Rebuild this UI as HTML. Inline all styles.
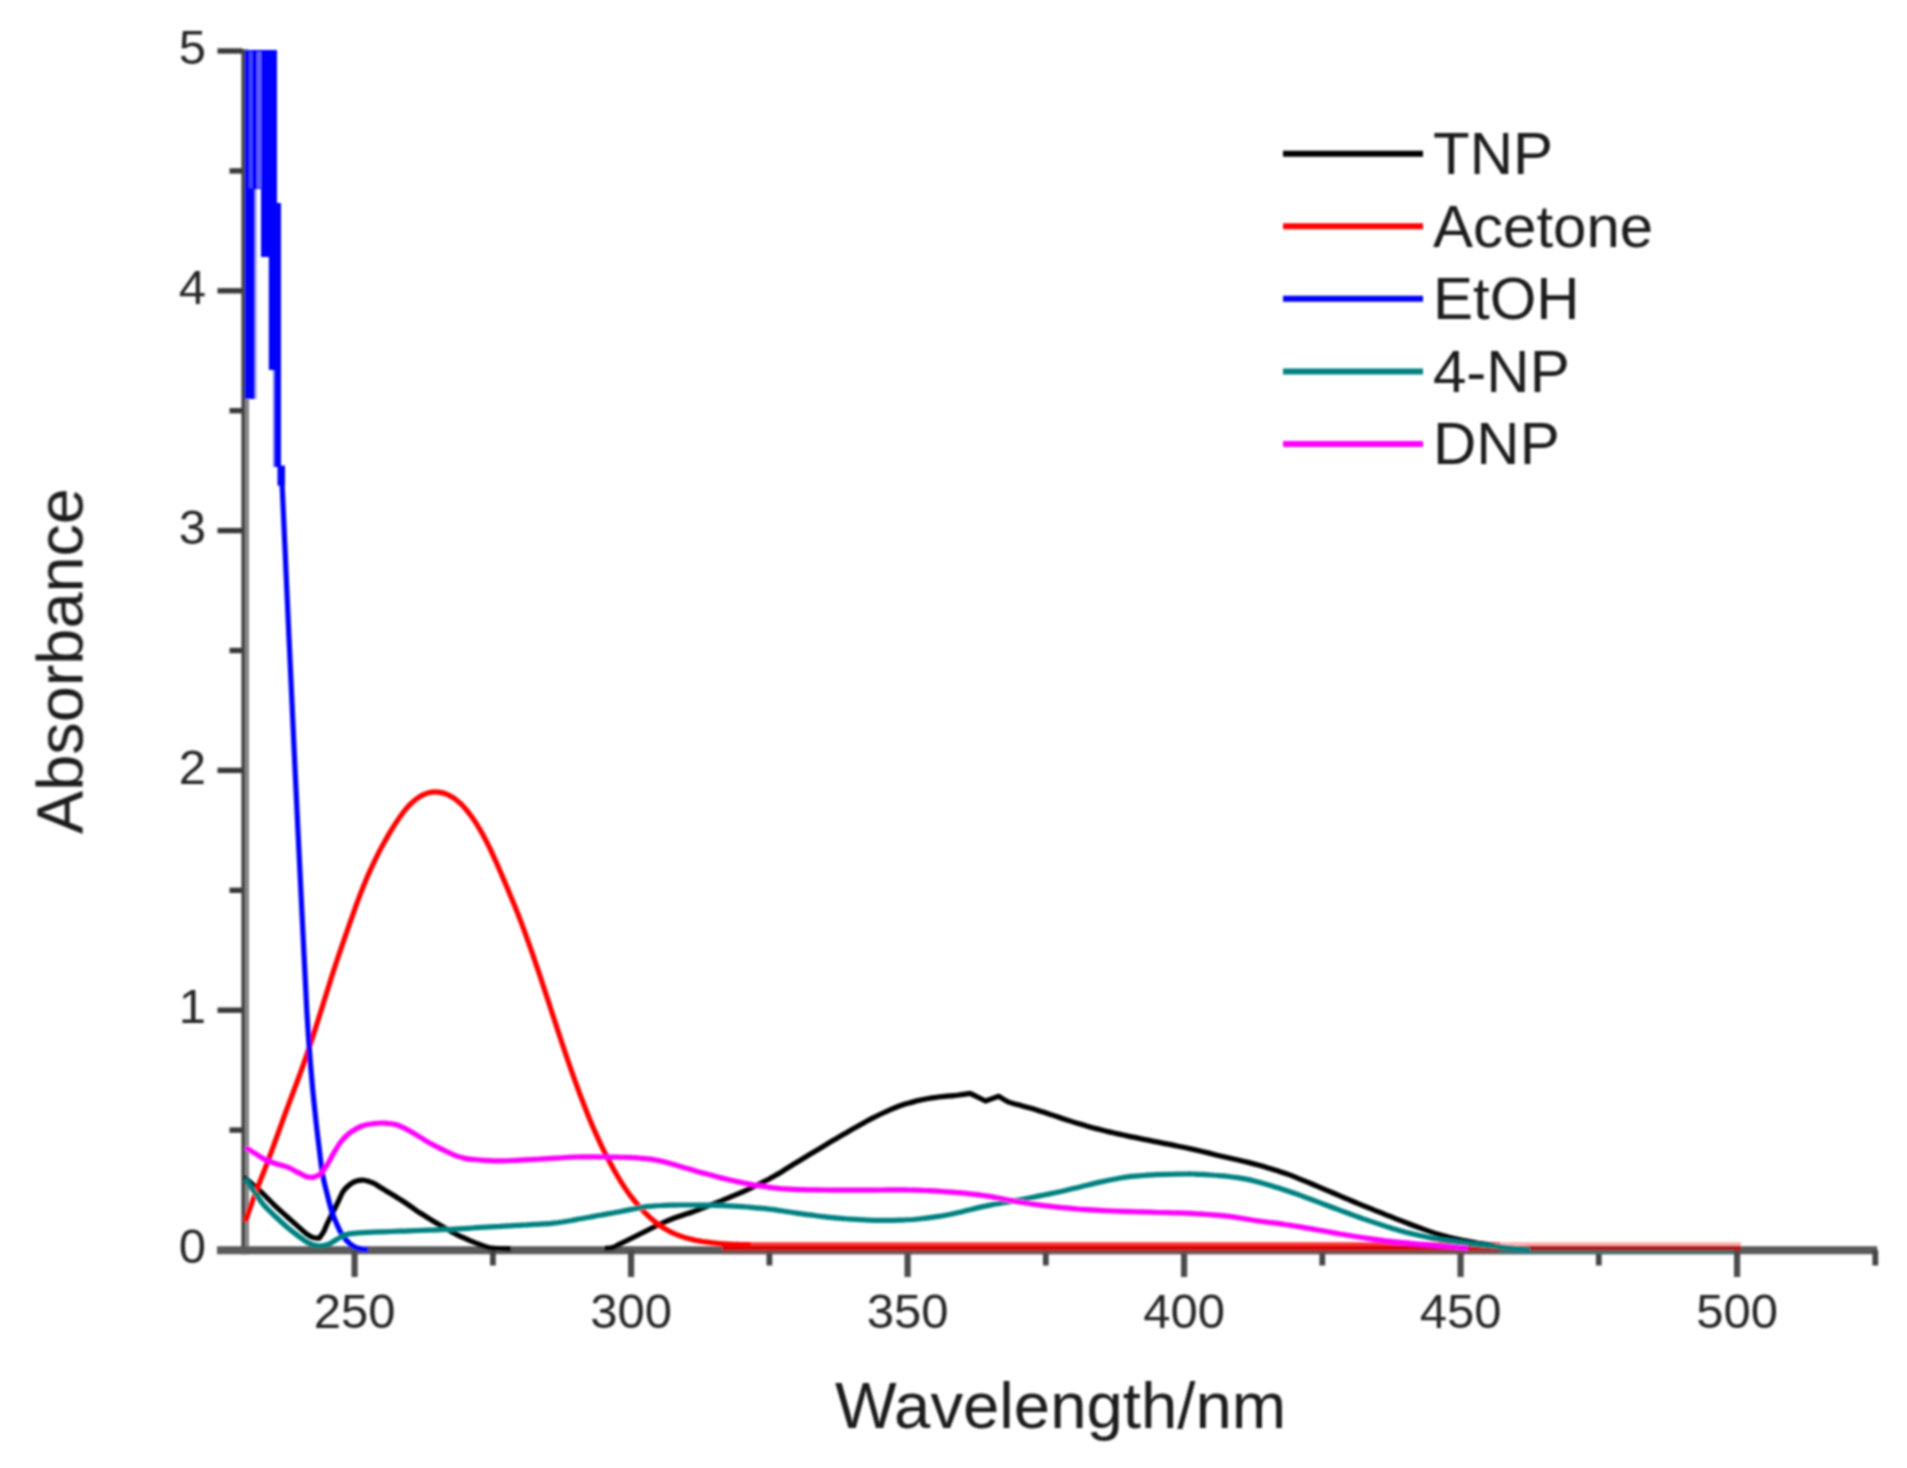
<!DOCTYPE html><html><head><meta charset="utf-8"><title>UV-vis absorbance</title>
<style>html,body{margin:0;padding:0;background:#fff}svg{display:block;font-family:"Liberation Sans",sans-serif}</style></head><body>
<svg width="1907" height="1468" viewBox="0 0 1907 1468">
<defs><filter id="b" x="-2%" y="-2%" width="104%" height="104%"><feGaussianBlur stdDeviation="1.1"/></filter></defs>
<rect width="1907" height="1468" fill="#fff"/>
<g filter="url(#b)">
<g fill="none" stroke-width="3.9">
<path d="M243.3,49 V1254.3" stroke="#454545"/>
<path d="M247.1,49 V1254.3" stroke="#858585"/>
</g>
<path d="M217,1250.3 H1877.2" stroke="#5a5a5a" stroke-width="8" fill="none"/>
<g stroke="#383838" stroke-width="5.4" fill="none">
<path d="M217.5,1010.2 H242"/>
<path d="M217.5,770.4 H242"/>
<path d="M217.5,530.6 H242"/>
<path d="M217.5,290.8 H242"/>
<path d="M217.5,51.0 H242"/>
<path d="M229.5,1130.1 H242"/>
<path d="M229.5,890.3 H242"/>
<path d="M229.5,650.5 H242"/>
<path d="M229.5,410.7 H242"/>
<path d="M229.5,170.9 H242"/>
</g>
<g stroke="#4c4c4c" stroke-width="6.2" fill="none">
<path d="M354.6,1250 V1277"/>
<path d="M631.1,1250 V1277"/>
<path d="M907.6,1250 V1277"/>
<path d="M1184.1,1250 V1277"/>
<path d="M1460.6,1250 V1277"/>
<path d="M1737.1,1250 V1277"/>
</g>
<g stroke="#454545" stroke-width="5.8" fill="none">
<path d="M492.9,1250 V1265.5"/>
<path d="M769.4,1250 V1265.5"/>
<path d="M1045.8,1250 V1265.5"/>
<path d="M1322.3,1250 V1265.5"/>
<path d="M1598.8,1250 V1265.5"/>
<path d="M1875.3,1250 V1265.5"/>
</g>
<g fill="none" stroke-width="5.2" stroke-linejoin="round" stroke-linecap="butt">
<path stroke="#f00" stroke-width="4.2" opacity="0.8" d="M748,1244.3 H1500"/>
<path stroke="#d80000" stroke-width="4.3" d="M722,1248.4 H1500"/>
<path stroke="#f00" stroke-width="4.2" opacity="0.32" d="M1500,1244.4 H1741"/>
<path stroke="#a81c1c" stroke-width="4.4" d="M1500,1248.5 H1741"/>
<path stroke="#477070" stroke-width="3.8" d="M1500,1252.4 H1733"/>
<path stroke="#7a5050" stroke-width="3.8" opacity="0.7" d="M722,1252.4 H1500"/>
<path stroke="#000" d="M244.2,1177.3 C247.1,1179.8 256.3,1187.5 261.5,1192.3 C266.7,1197.1 271.2,1202.1 275.4,1206.1 C279.6,1210.1 283.0,1213.0 286.9,1216.5 C290.8,1220.0 295.2,1224.0 298.5,1226.9 C301.8,1229.8 304.0,1232.0 306.5,1233.8 C309.0,1235.6 311.3,1236.9 313.4,1237.6 C315.5,1238.3 318.2,1238.1 319.2,1238.2 C320.0,1237.1 322.4,1234.0 323.8,1231.5 C325.2,1229.0 325.8,1226.7 327.3,1223.4 C328.9,1220.1 331.2,1215.7 333.1,1211.9 C335.0,1208.1 337.1,1203.9 338.8,1200.4 C340.5,1196.9 341.5,1193.8 343.4,1191.1 C345.3,1188.4 348.1,1185.9 350.4,1184.2 C352.7,1182.5 355.0,1181.5 357.3,1180.8 C359.6,1180.1 361.5,1179.8 364.2,1180.2 C366.9,1180.6 370.9,1182.0 373.4,1183.1 C375.9,1184.2 377.4,1185.5 379.4,1186.7 C381.4,1187.9 383.4,1189.1 385.4,1190.4 C387.4,1191.6 389.4,1192.9 391.4,1194.1 C393.4,1195.3 395.4,1196.5 397.4,1197.8 C399.4,1199.0 401.4,1200.2 403.4,1201.5 C405.4,1202.8 407.4,1204.2 409.4,1205.5 C411.4,1206.9 413.4,1208.4 415.4,1209.8 C417.4,1211.2 419.4,1212.5 421.4,1213.8 C423.4,1215.1 425.4,1216.3 427.4,1217.5 C429.4,1218.8 431.4,1220.0 433.4,1221.2 C435.4,1222.4 437.4,1223.6 439.4,1224.8 C441.4,1225.9 443.4,1227.1 445.4,1228.3 C447.4,1229.4 449.4,1230.6 451.4,1231.7 C453.4,1232.7 455.4,1233.8 457.4,1234.8 C459.4,1235.8 461.4,1236.8 463.4,1237.7 C465.4,1238.6 467.4,1239.5 469.4,1240.4 C471.4,1241.2 473.4,1242.0 475.4,1242.8 C477.4,1243.6 479.4,1244.3 481.4,1245.1 C483.4,1245.8 486.2,1246.8 487.4,1247.2 C488.6,1247.6 486.7,1247.4 488.5,1247.6 C490.3,1247.8 494.2,1248.3 498.0,1248.5 C501.8,1248.7 508.8,1248.8 511.0,1248.8"/>
<path stroke="#000" d="M604.6,1248.6 C606.0,1248.4 610.5,1248.1 613.0,1247.4 C615.5,1246.7 616.8,1245.6 619.6,1244.2 C622.4,1242.8 626.8,1240.6 630.0,1239.0 C633.2,1237.4 636.0,1236.0 639.0,1234.5 C642.0,1233.0 645.0,1231.5 648.0,1230.0 C651.0,1228.5 654.0,1227.0 657.0,1225.5 C660.0,1224.1 663.0,1222.7 666.0,1221.4 C669.0,1220.1 672.0,1218.9 675.0,1217.8 C678.0,1216.7 681.0,1215.7 684.0,1214.7 C687.0,1213.7 690.0,1212.8 693.0,1211.7 C696.0,1210.7 699.0,1209.5 702.0,1208.4 C705.0,1207.3 708.0,1206.1 711.0,1204.9 C714.0,1203.7 717.0,1202.5 720.0,1201.3 C723.0,1200.1 726.0,1198.9 729.0,1197.6 C732.0,1196.4 735.0,1195.2 738.0,1193.9 C741.0,1192.6 744.0,1191.3 747.0,1189.9 C750.0,1188.5 753.0,1187.1 756.0,1185.6 C759.0,1184.2 762.0,1182.7 765.0,1181.1 C768.0,1179.6 771.0,1177.9 774.0,1176.2 C777.0,1174.5 780.0,1172.7 783.0,1170.9 C786.0,1169.1 789.0,1167.2 792.0,1165.3 C795.0,1163.5 798.0,1161.6 801.0,1159.8 C804.0,1157.9 807.0,1156.1 810.0,1154.3 C813.0,1152.5 816.0,1150.7 819.0,1148.9 C822.0,1147.1 825.0,1145.3 828.0,1143.5 C831.0,1141.7 834.0,1140.0 837.0,1138.2 C840.0,1136.5 843.0,1134.7 846.0,1133.0 C849.0,1131.2 852.0,1129.5 855.0,1127.8 C858.0,1126.1 861.0,1124.4 864.0,1122.7 C867.0,1121.1 870.0,1119.4 873.0,1117.9 C876.0,1116.4 879.0,1114.9 882.0,1113.5 C885.0,1112.1 888.0,1110.7 891.0,1109.4 C894.0,1108.1 897.0,1106.9 900.0,1105.8 C903.0,1104.8 906.0,1103.8 909.0,1103.0 C912.0,1102.1 915.0,1101.4 918.0,1100.6 C921.0,1099.9 924.0,1099.3 927.0,1098.7 C930.0,1098.2 933.0,1097.7 936.0,1097.4 C939.0,1097.0 942.0,1096.7 945.0,1096.4 C948.0,1096.1 952.0,1095.8 954.0,1095.6 C956.0,1095.4 954.5,1095.7 957.2,1095.3 C959.9,1094.9 968.2,1093.7 970.4,1093.4 C971.3,1093.9 973.5,1095.0 976.0,1096.3 C978.5,1097.6 983.9,1100.2 985.5,1101.0 C987.7,1100.2 996.5,1097.1 998.7,1096.3 C1000.3,1097.2 1005.0,1100.5 1008.2,1101.9 C1011.5,1103.3 1014.9,1103.8 1018.2,1104.7 C1021.5,1105.7 1024.9,1106.6 1028.2,1107.6 C1031.5,1108.5 1034.9,1109.5 1038.2,1110.5 C1041.5,1111.6 1044.9,1112.6 1048.2,1113.7 C1051.5,1114.8 1054.9,1115.9 1058.2,1117.0 C1061.5,1118.2 1064.9,1119.3 1068.2,1120.4 C1071.5,1121.5 1074.9,1122.6 1078.2,1123.6 C1081.5,1124.6 1084.9,1125.6 1088.2,1126.5 C1091.5,1127.4 1094.9,1128.3 1098.2,1129.1 C1101.5,1130.0 1104.9,1130.8 1108.2,1131.6 C1111.5,1132.4 1114.9,1133.1 1118.2,1133.9 C1121.5,1134.6 1124.9,1135.4 1128.2,1136.1 C1131.5,1136.8 1134.9,1137.4 1138.2,1138.1 C1141.5,1138.8 1144.9,1139.5 1148.2,1140.1 C1151.5,1140.8 1154.9,1141.5 1158.2,1142.1 C1161.5,1142.8 1164.9,1143.5 1168.2,1144.1 C1171.5,1144.8 1174.9,1145.5 1178.2,1146.2 C1181.5,1146.8 1184.9,1147.5 1188.2,1148.3 C1191.5,1149.0 1194.9,1149.7 1198.2,1150.5 C1201.5,1151.3 1204.9,1152.1 1208.2,1152.9 C1211.5,1153.7 1214.9,1154.6 1218.2,1155.4 C1221.5,1156.2 1224.9,1157.0 1228.2,1157.7 C1231.5,1158.5 1234.9,1159.3 1238.2,1160.0 C1241.5,1160.8 1244.9,1161.6 1248.2,1162.4 C1251.5,1163.2 1254.9,1164.1 1258.2,1165.0 C1261.5,1165.9 1264.9,1166.9 1268.2,1167.9 C1271.5,1168.9 1274.9,1169.9 1278.2,1171.0 C1281.5,1172.1 1284.9,1173.2 1288.2,1174.4 C1291.5,1175.6 1294.9,1176.9 1298.2,1178.3 C1301.5,1179.6 1304.9,1181.0 1308.2,1182.4 C1311.5,1183.8 1314.9,1185.2 1318.2,1186.6 C1321.5,1188.0 1324.9,1189.4 1328.2,1190.9 C1331.5,1192.3 1334.9,1193.7 1338.2,1195.1 C1341.5,1196.5 1344.9,1197.9 1348.2,1199.4 C1351.5,1200.8 1354.9,1202.2 1358.2,1203.6 C1361.5,1204.9 1364.9,1206.3 1368.2,1207.7 C1371.5,1209.1 1374.9,1210.4 1378.2,1211.7 C1381.5,1213.1 1384.9,1214.4 1388.2,1215.7 C1391.5,1217.1 1394.9,1218.4 1398.2,1219.7 C1401.5,1221.0 1404.9,1222.3 1408.2,1223.5 C1411.5,1224.8 1414.9,1226.1 1418.2,1227.3 C1421.5,1228.5 1424.9,1229.7 1428.2,1230.9 C1431.5,1232.0 1434.9,1233.2 1438.2,1234.2 C1441.5,1235.2 1444.9,1236.1 1448.2,1237.0 C1451.5,1237.8 1454.9,1238.6 1458.2,1239.4 C1461.5,1240.1 1464.9,1240.8 1468.2,1241.4 C1471.5,1242.0 1474.9,1242.6 1478.2,1243.2 C1481.5,1243.7 1485.3,1244.3 1488.2,1244.7 C1491.1,1245.2 1494.2,1245.6 1495.4,1245.8"/>
<path stroke="#f00" d="M245.4,1221.6 C246.2,1219.2 248.7,1211.7 250.4,1207.0 C252.1,1202.3 253.7,1197.8 255.4,1193.4 C257.1,1188.9 258.7,1184.7 260.4,1180.4 C262.1,1176.1 263.7,1171.9 265.4,1167.6 C267.1,1163.2 268.7,1158.9 270.4,1154.4 C272.1,1149.9 273.7,1145.3 275.4,1140.7 C277.1,1136.1 278.7,1131.4 280.4,1126.8 C282.1,1122.2 283.7,1117.6 285.4,1113.0 C287.1,1108.5 288.7,1104.1 290.4,1099.6 C292.1,1095.2 293.7,1090.9 295.4,1086.4 C297.1,1082.0 298.7,1077.5 300.4,1072.9 C302.1,1068.3 303.7,1063.7 305.4,1058.9 C307.1,1054.0 308.7,1049.1 310.4,1044.0 C312.1,1039.0 313.7,1033.8 315.4,1028.6 C317.1,1023.4 318.7,1018.1 320.4,1012.8 C322.1,1007.5 323.7,1002.1 325.4,996.7 C327.1,991.4 328.7,986.0 330.4,980.7 C332.1,975.4 333.7,970.2 335.4,965.1 C337.1,960.1 338.7,955.1 340.4,950.3 C342.1,945.4 343.7,940.7 345.4,935.9 C347.1,931.1 348.7,926.3 350.4,921.6 C352.1,916.9 353.7,912.1 355.4,907.4 C357.1,902.8 358.7,898.2 360.4,893.9 C362.1,889.5 363.7,885.4 365.4,881.4 C367.1,877.4 368.7,873.6 370.4,869.9 C372.1,866.2 373.7,862.7 375.4,859.3 C377.1,855.8 378.7,852.6 380.4,849.4 C382.1,846.2 383.7,843.2 385.4,840.2 C387.1,837.2 388.7,834.4 390.4,831.6 C392.1,828.8 393.7,826.1 395.4,823.6 C397.1,821.0 398.7,818.5 400.4,816.2 C402.1,813.8 403.7,811.6 405.4,809.6 C407.1,807.6 408.7,805.8 410.4,804.1 C412.1,802.4 413.7,801.0 415.4,799.7 C417.1,798.4 418.7,797.3 420.4,796.3 C422.1,795.3 423.7,794.5 425.4,793.9 C427.1,793.2 428.7,792.7 430.4,792.4 C432.1,792.0 433.7,791.8 435.4,791.8 C437.1,791.8 438.7,792.0 440.4,792.4 C442.1,792.7 443.7,793.2 445.4,793.8 C447.1,794.4 448.7,795.2 450.4,796.1 C452.1,797.0 453.7,798.0 455.4,799.2 C457.1,800.5 458.7,801.8 460.4,803.4 C462.1,805.0 463.7,806.7 465.4,808.7 C467.1,810.6 468.7,812.7 470.4,815.0 C472.1,817.2 473.7,819.6 475.4,822.2 C477.1,824.8 478.7,827.5 480.4,830.4 C482.1,833.2 483.7,836.3 485.4,839.5 C487.1,842.6 488.7,846.0 490.4,849.5 C492.1,853.0 493.7,856.7 495.4,860.4 C497.1,864.1 498.7,867.9 500.4,871.8 C502.1,875.6 503.7,879.6 505.4,883.5 C507.1,887.4 508.7,891.4 510.4,895.4 C512.1,899.4 513.7,903.5 515.4,907.6 C517.1,911.8 518.7,916.0 520.4,920.4 C522.1,924.7 523.7,929.2 525.4,933.8 C527.1,938.4 528.7,943.1 530.4,947.8 C532.1,952.6 533.7,957.4 535.4,962.3 C537.1,967.2 538.7,972.2 540.4,977.2 C542.1,982.2 543.7,987.3 545.4,992.4 C547.1,997.5 548.7,1002.6 550.4,1007.7 C552.1,1012.8 553.7,1017.9 555.4,1023.0 C557.1,1028.1 558.7,1033.2 560.4,1038.3 C562.1,1043.3 563.7,1048.3 565.4,1053.3 C567.1,1058.2 568.7,1063.1 570.4,1067.8 C572.1,1072.6 573.7,1077.3 575.4,1081.9 C577.1,1086.5 578.7,1091.0 580.4,1095.5 C582.1,1099.9 583.7,1104.3 585.4,1108.5 C587.1,1112.8 588.7,1116.9 590.4,1120.9 C592.1,1125.0 593.7,1128.9 595.4,1132.6 C597.1,1136.4 598.7,1140.0 600.4,1143.6 C602.1,1147.1 603.7,1150.5 605.4,1153.8 C607.1,1157.1 608.7,1160.2 610.4,1163.3 C612.1,1166.4 613.7,1169.4 615.4,1172.4 C617.1,1175.3 618.7,1178.1 620.4,1180.8 C622.1,1183.5 623.7,1186.1 625.4,1188.6 C627.1,1191.1 628.7,1193.4 630.4,1195.7 C632.1,1197.9 633.7,1200.0 635.4,1202.0 C637.1,1204.1 638.7,1206.0 640.4,1207.8 C642.1,1209.7 643.7,1211.4 645.4,1213.1 C647.1,1214.8 648.7,1216.4 650.4,1217.9 C652.1,1219.4 653.7,1220.8 655.4,1222.1 C657.1,1223.4 658.7,1224.7 660.4,1225.8 C662.1,1227.0 663.7,1228.1 665.4,1229.1 C667.1,1230.1 668.7,1231.0 670.4,1231.8 C672.1,1232.6 673.7,1233.4 675.4,1234.1 C677.1,1234.8 678.7,1235.5 680.4,1236.0 C682.1,1236.6 683.7,1237.2 685.4,1237.7 C687.1,1238.2 688.7,1238.6 690.4,1239.0 C692.1,1239.5 693.7,1239.8 695.4,1240.2 C697.1,1240.5 698.7,1240.8 700.4,1241.1 C702.1,1241.4 703.7,1241.7 705.4,1241.9 C707.1,1242.2 708.7,1242.4 710.4,1242.6 C712.1,1242.8 713.7,1243.0 715.4,1243.2 C717.1,1243.4 718.7,1243.5 720.4,1243.6 C722.1,1243.8 723.7,1243.9 725.4,1243.9 C727.1,1244.0 728.7,1244.1 730.4,1244.2 C732.1,1244.3 733.7,1244.3 735.4,1244.4 C737.1,1244.4 738.7,1244.5 740.4,1244.5 C742.1,1244.5 743.7,1244.6 745.4,1244.6 C747.1,1244.6 749.6,1244.6 750.4,1244.6"/>
<path stroke="#00f" d="M281.3,466.0 C282.0,481.7 284.2,531.0 285.5,560.0 C286.8,589.0 287.6,606.7 289.1,640.0 C290.6,673.3 292.4,713.3 294.6,760.0 C296.8,806.7 300.6,885.6 302.3,920.0 C304.0,954.4 303.8,950.7 304.6,966.1 C305.4,981.5 306.1,998.8 306.9,1012.3 C307.7,1025.8 308.3,1034.8 309.2,1046.9 C310.1,1059.0 311.2,1072.9 312.3,1085.0 C313.4,1097.1 314.7,1109.0 315.8,1119.6 C316.9,1130.2 318.1,1139.3 319.2,1148.5 C320.3,1157.7 321.3,1167.3 322.7,1175.0 C324.1,1182.7 325.8,1188.4 327.3,1194.6 C328.8,1200.8 330.4,1207.1 331.9,1211.9 C333.4,1216.7 334.8,1219.6 336.5,1223.4 C338.2,1227.2 340.0,1231.5 342.3,1235.0 C344.6,1238.5 347.5,1241.9 350.4,1244.2 C353.3,1246.5 356.7,1247.9 359.6,1248.8 C362.5,1249.7 366.6,1249.6 368.0,1249.8"/>
<path stroke="#008080" d="M245.0,1178.5 C246.6,1180.8 251.5,1187.9 254.6,1192.3 C257.7,1196.7 260.3,1201.0 263.8,1205.0 C267.3,1209.0 271.5,1212.8 275.4,1216.5 C279.2,1220.2 283.0,1223.6 286.9,1226.9 C290.8,1230.2 294.9,1233.4 298.5,1236.1 C302.1,1238.8 305.5,1241.5 308.8,1243.1 C312.1,1244.7 315.0,1245.6 318.1,1245.9 C321.2,1246.2 324.2,1245.8 327.3,1244.8 C330.4,1243.8 333.6,1241.2 336.5,1239.6 C339.4,1238.0 341.3,1236.1 344.6,1235.0 C347.9,1233.9 351.3,1233.7 356.1,1233.2 C360.9,1232.7 369.0,1232.3 373.4,1232.1 C377.8,1231.9 379.4,1231.9 382.4,1231.8 C385.4,1231.7 388.4,1231.6 391.4,1231.5 C394.4,1231.4 397.4,1231.3 400.4,1231.2 C403.4,1231.1 406.4,1231.0 409.4,1230.8 C412.4,1230.7 415.4,1230.6 418.4,1230.5 C421.4,1230.4 424.4,1230.3 427.4,1230.2 C430.4,1230.1 433.4,1230.0 436.4,1229.9 C439.4,1229.8 442.4,1229.7 445.4,1229.5 C448.4,1229.4 451.4,1229.3 454.4,1229.1 C457.4,1229.0 460.4,1228.8 463.4,1228.6 C466.4,1228.4 469.4,1228.2 472.4,1228.0 C475.4,1227.8 478.4,1227.6 481.4,1227.4 C484.4,1227.2 487.4,1227.0 490.4,1226.8 C493.4,1226.6 496.4,1226.4 499.4,1226.3 C502.4,1226.1 505.4,1226.0 508.4,1225.8 C511.4,1225.6 514.4,1225.5 517.4,1225.3 C520.4,1225.2 523.4,1225.0 526.4,1224.9 C529.4,1224.7 532.4,1224.6 535.4,1224.4 C538.4,1224.2 541.4,1224.1 544.4,1223.9 C547.4,1223.7 550.4,1223.5 553.4,1223.1 C556.4,1222.8 559.4,1222.4 562.4,1222.0 C565.4,1221.5 568.4,1221.0 571.4,1220.5 C574.4,1219.9 577.4,1219.4 580.4,1218.8 C583.4,1218.3 586.4,1217.7 589.4,1217.2 C592.4,1216.6 595.4,1216.1 598.4,1215.5 C601.4,1215.0 604.4,1214.5 607.4,1213.9 C610.4,1213.4 613.4,1212.9 616.4,1212.3 C619.4,1211.7 622.4,1211.2 625.4,1210.6 C628.4,1210.0 631.4,1209.3 634.4,1208.7 C637.4,1208.2 640.4,1207.6 643.4,1207.1 C646.4,1206.7 649.4,1206.3 652.4,1206.1 C655.4,1205.8 658.4,1205.6 661.4,1205.5 C664.4,1205.3 667.4,1205.2 670.4,1205.1 C673.4,1205.1 676.4,1205.0 679.4,1205.0 C682.4,1205.0 685.4,1205.0 688.4,1205.0 C691.4,1205.0 694.4,1205.0 697.4,1205.0 C700.4,1205.0 703.4,1205.1 706.4,1205.1 C709.4,1205.2 712.4,1205.2 715.4,1205.3 C718.4,1205.4 721.4,1205.5 724.4,1205.6 C727.4,1205.7 730.4,1205.9 733.4,1206.1 C736.4,1206.3 739.4,1206.5 742.4,1206.7 C745.4,1206.9 748.4,1207.1 751.4,1207.4 C754.4,1207.7 757.4,1207.9 760.4,1208.2 C763.4,1208.5 766.4,1208.8 769.4,1209.2 C772.4,1209.5 775.4,1209.9 778.4,1210.4 C781.4,1210.8 784.4,1211.3 787.4,1211.7 C790.4,1212.2 793.4,1212.7 796.4,1213.1 C799.4,1213.6 802.4,1214.0 805.4,1214.4 C808.4,1214.8 811.4,1215.1 814.4,1215.5 C817.4,1215.9 820.4,1216.3 823.4,1216.6 C826.4,1217.0 829.4,1217.3 832.4,1217.6 C835.4,1217.9 838.4,1218.2 841.4,1218.4 C844.4,1218.6 847.4,1218.9 850.4,1219.1 C853.4,1219.3 856.4,1219.5 859.4,1219.6 C862.4,1219.8 865.4,1220.0 868.4,1220.1 C871.4,1220.2 874.4,1220.3 877.4,1220.3 C880.4,1220.4 883.4,1220.4 886.4,1220.4 C889.4,1220.4 892.4,1220.3 895.4,1220.3 C898.4,1220.2 901.4,1220.2 904.4,1220.0 C907.4,1219.9 910.4,1219.7 913.4,1219.5 C916.4,1219.2 919.4,1218.9 922.4,1218.5 C925.4,1218.2 928.4,1217.8 931.4,1217.4 C934.4,1216.9 937.4,1216.5 940.4,1216.1 C943.4,1215.6 946.4,1215.1 949.4,1214.5 C952.4,1213.9 955.4,1213.2 958.4,1212.5 C961.4,1211.8 964.4,1211.0 967.4,1210.3 C970.4,1209.6 973.4,1208.8 976.4,1208.1 C979.4,1207.4 982.4,1206.7 985.4,1206.1 C988.4,1205.4 991.4,1204.9 994.4,1204.3 C997.4,1203.7 1000.4,1203.2 1003.4,1202.7 C1006.4,1202.1 1009.4,1201.6 1012.4,1201.1 C1015.4,1200.6 1018.4,1200.0 1021.4,1199.5 C1024.4,1198.9 1027.4,1198.3 1030.4,1197.7 C1033.4,1197.2 1036.4,1196.6 1039.4,1195.9 C1042.4,1195.3 1045.4,1194.7 1048.4,1194.1 C1051.4,1193.5 1054.4,1192.9 1057.4,1192.2 C1060.4,1191.6 1063.4,1190.9 1066.4,1190.2 C1069.4,1189.5 1072.4,1188.7 1075.4,1188.0 C1078.4,1187.3 1081.4,1186.5 1084.4,1185.8 C1087.4,1185.1 1090.4,1184.3 1093.4,1183.6 C1096.4,1182.9 1099.4,1182.2 1102.4,1181.6 C1105.4,1180.9 1108.4,1180.3 1111.4,1179.7 C1114.4,1179.1 1117.4,1178.5 1120.4,1178.0 C1123.4,1177.5 1126.4,1177.1 1129.4,1176.7 C1132.4,1176.3 1135.4,1176.1 1138.4,1175.8 C1141.4,1175.6 1144.4,1175.4 1147.4,1175.2 C1150.4,1175.0 1153.4,1174.8 1156.4,1174.7 C1159.4,1174.6 1162.4,1174.5 1165.4,1174.4 C1168.4,1174.3 1171.4,1174.2 1174.4,1174.2 C1177.4,1174.1 1180.4,1174.0 1183.4,1174.0 C1186.4,1174.0 1189.4,1173.9 1192.4,1174.0 C1195.4,1174.1 1198.4,1174.2 1201.4,1174.4 C1204.4,1174.6 1207.4,1174.8 1210.4,1175.0 C1213.4,1175.2 1216.4,1175.4 1219.4,1175.7 C1222.4,1175.9 1225.4,1176.2 1228.4,1176.5 C1231.4,1176.8 1234.4,1177.2 1237.4,1177.6 C1240.4,1178.0 1243.4,1178.5 1246.4,1179.1 C1249.4,1179.7 1252.4,1180.4 1255.4,1181.2 C1258.4,1181.9 1261.4,1182.8 1264.4,1183.7 C1267.4,1184.5 1270.4,1185.5 1273.4,1186.4 C1276.4,1187.3 1279.4,1188.2 1282.4,1189.2 C1285.4,1190.2 1288.4,1191.2 1291.4,1192.2 C1294.4,1193.2 1297.4,1194.3 1300.4,1195.4 C1303.4,1196.5 1306.4,1197.7 1309.4,1198.8 C1312.4,1199.9 1315.4,1201.0 1318.4,1202.1 C1321.4,1203.3 1324.4,1204.4 1327.4,1205.5 C1330.4,1206.6 1333.4,1207.8 1336.4,1208.9 C1339.4,1210.0 1342.4,1211.2 1345.4,1212.3 C1348.4,1213.4 1351.4,1214.5 1354.4,1215.6 C1357.4,1216.7 1360.4,1217.8 1363.4,1218.9 C1366.4,1219.9 1369.4,1220.9 1372.4,1221.9 C1375.4,1222.9 1378.4,1223.9 1381.4,1224.9 C1384.4,1225.9 1387.4,1226.9 1390.4,1227.8 C1393.4,1228.7 1396.4,1229.7 1399.4,1230.5 C1402.4,1231.3 1405.4,1232.1 1408.4,1232.9 C1411.4,1233.6 1414.4,1234.3 1417.4,1235.0 C1420.4,1235.7 1423.4,1236.3 1426.4,1237.0 C1429.4,1237.6 1432.4,1238.3 1435.4,1238.8 C1438.4,1239.4 1441.4,1239.9 1444.4,1240.4 C1447.4,1240.9 1450.4,1241.3 1453.4,1241.7 C1456.4,1242.1 1459.4,1242.5 1462.4,1242.9 C1465.4,1243.3 1468.4,1243.7 1471.4,1244.1 C1474.4,1244.4 1477.4,1244.8 1480.4,1245.1 C1483.4,1245.4 1486.4,1245.7 1489.4,1246.0 C1492.4,1246.3 1495.4,1246.6 1498.4,1246.9 C1501.4,1247.2 1504.4,1247.5 1507.4,1247.8 C1510.4,1248.1 1513.4,1248.4 1516.4,1248.6 C1519.4,1248.9 1523.1,1249.3 1525.4,1249.5 C1527.7,1249.8 1529.2,1249.9 1530.0,1250.0"/>
<path stroke="#f0f" d="M245.4,1147.3 C246.9,1148.3 251.5,1151.2 254.6,1153.1 C257.7,1155.0 260.3,1157.1 263.8,1158.8 C267.3,1160.5 271.5,1162.2 275.4,1163.5 C279.2,1164.8 283.0,1165.4 286.9,1166.9 C290.8,1168.4 295.2,1171.1 298.5,1172.7 C301.8,1174.3 304.0,1175.9 306.5,1176.7 C309.0,1177.5 312.2,1177.2 313.4,1177.3 C314.6,1176.7 318.1,1175.9 320.4,1173.8 C322.7,1171.7 325.2,1167.9 327.3,1164.6 C329.4,1161.3 330.8,1158.0 333.1,1154.2 C335.4,1150.4 338.2,1145.2 341.1,1141.5 C344.0,1137.8 346.9,1134.9 350.4,1132.3 C353.9,1129.7 358.1,1127.5 361.9,1126.0 C365.7,1124.5 369.5,1124.1 373.4,1123.6 C377.2,1123.1 381.1,1122.9 385.0,1123.1 C388.9,1123.3 392.7,1123.6 396.5,1124.8 C400.3,1126.0 404.1,1128.0 408.0,1130.0 C411.9,1132.0 415.8,1134.6 419.6,1136.9 C423.5,1139.2 427.2,1141.7 431.1,1143.8 C435.0,1145.9 438.7,1147.7 442.7,1149.6 C446.7,1151.5 451.1,1153.9 455.0,1155.4 C458.9,1156.9 462.7,1157.9 466.0,1158.6 C469.3,1159.3 472.0,1159.2 475.0,1159.5 C478.0,1159.8 481.0,1160.1 484.0,1160.3 C487.0,1160.5 490.0,1160.7 493.0,1160.8 C496.0,1160.9 499.0,1160.9 502.0,1160.9 C505.0,1160.8 508.0,1160.7 511.0,1160.5 C514.0,1160.4 517.0,1160.3 520.0,1160.1 C523.0,1160.0 526.0,1159.8 529.0,1159.6 C532.0,1159.5 535.0,1159.3 538.0,1159.2 C541.0,1159.0 544.0,1158.9 547.0,1158.7 C550.0,1158.5 553.0,1158.3 556.0,1158.1 C559.0,1158.0 562.0,1157.7 565.0,1157.5 C568.0,1157.4 571.0,1157.2 574.0,1157.0 C577.0,1156.9 580.0,1156.8 583.0,1156.8 C586.0,1156.8 589.0,1156.8 592.0,1156.9 C595.0,1156.9 598.0,1157.0 601.0,1157.0 C604.0,1157.1 607.0,1157.1 610.0,1157.1 C613.0,1157.1 616.0,1157.1 619.0,1157.2 C622.0,1157.2 625.0,1157.3 628.0,1157.4 C631.0,1157.5 634.0,1157.6 637.0,1157.8 C640.0,1158.0 643.0,1158.2 646.0,1158.6 C649.0,1158.9 652.0,1159.3 655.0,1159.9 C658.0,1160.4 661.0,1161.1 664.0,1161.8 C667.0,1162.6 670.0,1163.5 673.0,1164.3 C676.0,1165.2 679.0,1166.1 682.0,1167.0 C685.0,1167.9 688.0,1168.7 691.0,1169.6 C694.0,1170.5 697.0,1171.3 700.0,1172.2 C703.0,1173.0 706.0,1173.8 709.0,1174.6 C712.0,1175.4 715.0,1176.2 718.0,1177.0 C721.0,1177.8 724.0,1178.6 727.0,1179.3 C730.0,1180.0 733.0,1180.8 736.0,1181.4 C739.0,1182.1 742.0,1182.7 745.0,1183.3 C748.0,1183.9 751.0,1184.4 754.0,1185.0 C757.0,1185.5 760.0,1186.0 763.0,1186.4 C766.0,1186.9 769.0,1187.3 772.0,1187.7 C775.0,1188.0 778.0,1188.3 781.0,1188.6 C784.0,1188.8 787.0,1189.0 790.0,1189.2 C793.0,1189.4 796.0,1189.5 799.0,1189.6 C802.0,1189.7 805.0,1189.7 808.0,1189.8 C811.0,1189.9 814.0,1189.9 817.0,1189.9 C820.0,1190.0 823.0,1190.0 826.0,1190.0 C829.0,1190.0 832.0,1190.1 835.0,1190.1 C838.0,1190.1 841.0,1190.2 844.0,1190.2 C847.0,1190.2 850.0,1190.2 853.0,1190.2 C856.0,1190.2 859.0,1190.2 862.0,1190.2 C865.0,1190.2 868.0,1190.1 871.0,1190.1 C874.0,1190.1 877.0,1190.0 880.0,1190.0 C883.0,1190.0 886.0,1190.0 889.0,1189.9 C892.0,1189.9 895.0,1189.9 898.0,1189.9 C901.0,1189.8 904.0,1189.8 907.0,1189.9 C910.0,1189.9 913.0,1190.0 916.0,1190.1 C919.0,1190.2 922.0,1190.3 925.0,1190.5 C928.0,1190.6 931.0,1190.8 934.0,1190.9 C937.0,1191.1 940.0,1191.3 943.0,1191.5 C946.0,1191.7 949.0,1191.9 952.0,1192.1 C955.0,1192.4 958.0,1192.7 961.0,1192.9 C964.0,1193.2 967.0,1193.5 970.0,1193.9 C973.0,1194.2 976.0,1194.5 979.0,1194.9 C982.0,1195.3 985.0,1195.7 988.0,1196.1 C991.0,1196.6 994.0,1197.2 997.0,1197.7 C1000.0,1198.3 1003.0,1198.9 1006.0,1199.5 C1009.0,1200.0 1012.0,1200.6 1015.0,1201.2 C1018.0,1201.7 1021.0,1202.3 1024.0,1202.8 C1027.0,1203.3 1030.0,1203.7 1033.0,1204.1 C1036.0,1204.5 1039.0,1204.9 1042.0,1205.3 C1045.0,1205.7 1048.0,1206.0 1051.0,1206.4 C1054.0,1206.8 1057.0,1207.1 1060.0,1207.4 C1063.0,1207.7 1066.0,1208.0 1069.0,1208.2 C1072.0,1208.5 1075.0,1208.7 1078.0,1209.0 C1081.0,1209.2 1084.0,1209.4 1087.0,1209.6 C1090.0,1209.8 1093.0,1210.0 1096.0,1210.2 C1099.0,1210.4 1102.0,1210.5 1105.0,1210.7 C1108.0,1210.8 1111.0,1210.9 1114.0,1211.0 C1117.0,1211.1 1120.0,1211.2 1123.0,1211.3 C1126.0,1211.4 1129.0,1211.5 1132.0,1211.6 C1135.0,1211.7 1138.0,1211.8 1141.0,1211.9 C1144.0,1212.0 1147.0,1212.1 1150.0,1212.2 C1153.0,1212.3 1156.0,1212.4 1159.0,1212.5 C1162.0,1212.5 1165.0,1212.6 1168.0,1212.7 C1171.0,1212.8 1174.0,1212.8 1177.0,1212.9 C1180.0,1213.0 1183.0,1213.1 1186.0,1213.2 C1189.0,1213.3 1192.0,1213.4 1195.0,1213.6 C1198.0,1213.7 1201.0,1213.9 1204.0,1214.2 C1207.0,1214.4 1210.0,1214.6 1213.0,1214.8 C1216.0,1215.1 1219.0,1215.3 1222.0,1215.6 C1225.0,1215.9 1228.0,1216.2 1231.0,1216.6 C1234.0,1217.0 1237.0,1217.5 1240.0,1218.0 C1243.0,1218.5 1246.0,1219.0 1249.0,1219.5 C1252.0,1220.0 1255.0,1220.4 1258.0,1220.9 C1261.0,1221.3 1264.0,1221.7 1267.0,1222.1 C1270.0,1222.4 1273.0,1222.8 1276.0,1223.2 C1279.0,1223.6 1282.0,1224.0 1285.0,1224.5 C1288.0,1224.9 1291.0,1225.4 1294.0,1225.9 C1297.0,1226.3 1300.0,1226.9 1303.0,1227.4 C1306.0,1227.9 1309.0,1228.4 1312.0,1228.9 C1315.0,1229.5 1318.0,1230.0 1321.0,1230.5 C1324.0,1231.0 1327.0,1231.6 1330.0,1232.1 C1333.0,1232.6 1336.0,1233.1 1339.0,1233.7 C1342.0,1234.2 1345.0,1234.7 1348.0,1235.2 C1351.0,1235.7 1354.0,1236.2 1357.0,1236.7 C1360.0,1237.2 1363.0,1237.7 1366.0,1238.1 C1369.0,1238.5 1372.0,1238.9 1375.0,1239.3 C1378.0,1239.7 1381.0,1240.1 1384.0,1240.5 C1387.0,1240.8 1390.0,1241.2 1393.0,1241.6 C1396.0,1241.9 1399.0,1242.2 1402.0,1242.5 C1405.0,1242.8 1408.0,1243.1 1411.0,1243.4 C1414.0,1243.6 1417.0,1243.9 1420.0,1244.1 C1423.0,1244.3 1426.0,1244.6 1429.0,1244.8 C1432.0,1245.1 1435.0,1245.3 1438.0,1245.6 C1441.0,1245.8 1444.0,1246.1 1447.0,1246.4 C1450.0,1246.6 1453.0,1246.9 1456.0,1247.2 C1459.0,1247.4 1463.0,1247.8 1465.0,1247.9 C1467.0,1248.1 1467.5,1248.2 1468.0,1248.2"/>
</g>
<g fill="#0000ff">
<rect x="245" y="50" width="32" height="139"/>
<rect x="245" y="50" width="9.5" height="349"/>
<rect x="261" y="188" width="16" height="16"/>
<rect x="261" y="203" width="20" height="54"/>
<rect x="268.8" y="256" width="12.2" height="114"/>
<rect x="275" y="369" width="6" height="98"/>
<rect x="277.5" y="465.6" width="7.5" height="20"/>
</g>
<rect x="249.3" y="52" width="3" height="136" fill="#fff" opacity="0.3"/>
<rect x="257" y="52" width="4.2" height="136" fill="#fff" opacity="0.38"/>
<rect x="254.5" y="188" width="2.5" height="211" fill="#00f" opacity="0.3"/>
<rect x="273" y="369" width="2.5" height="98" fill="#00f" opacity="0.5"/>
<path d="M1283,153.7 H1423" stroke="#000" stroke-width="6" fill="none"/>
<text x="1433" y="174.1" font-size="60" fill="#1a1a1a">TNP</text>
<path d="M1283,226.3 H1423" stroke="#f00" stroke-width="6" fill="none"/>
<text x="1433" y="246.7" font-size="60" fill="#1a1a1a">Acetone</text>
<path d="M1283,298.8 H1423" stroke="#00f" stroke-width="6" fill="none"/>
<text x="1433" y="319.2" font-size="60" fill="#1a1a1a">EtOH</text>
<path d="M1283,371.4 H1423" stroke="#008080" stroke-width="6" fill="none"/>
<text x="1433" y="391.8" font-size="60" fill="#1a1a1a">4-NP</text>
<path d="M1283,444.0 H1423" stroke="#f0f" stroke-width="6" fill="none"/>
<text x="1433" y="464.4" font-size="60" fill="#1a1a1a">DNP</text>
<g font-size="49" fill="#262626">
<text x="206" y="1263.2" text-anchor="end">0</text>
<text x="206" y="1023.4" text-anchor="end">1</text>
<text x="206" y="783.6" text-anchor="end">2</text>
<text x="206" y="543.8" text-anchor="end">3</text>
<text x="206" y="304.0" text-anchor="end">4</text>
<text x="206" y="64.2" text-anchor="end">5</text>
<text x="354.6" y="1327.8" text-anchor="middle">250</text>
<text x="631.1" y="1327.8" text-anchor="middle">300</text>
<text x="907.6" y="1327.8" text-anchor="middle">350</text>
<text x="1184.1" y="1327.8" text-anchor="middle">400</text>
<text x="1460.6" y="1327.8" text-anchor="middle">450</text>
<text x="1737.1" y="1327.8" text-anchor="middle">500</text>
</g>
<text x="1060.5" y="1428" font-size="65.3" text-anchor="middle" fill="#1a1a1a">Wavelength/nm</text>
<text transform="translate(82.5,661) rotate(-90)" font-size="64.8" text-anchor="middle" fill="#1a1a1a">Absorbance</text>
</g>
</svg></body></html>
